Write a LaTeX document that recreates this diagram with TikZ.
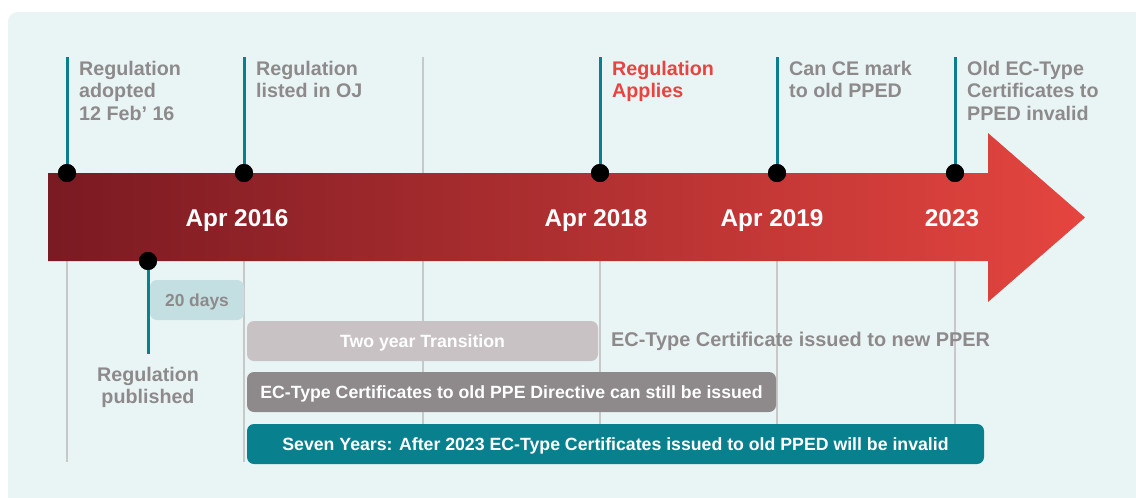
\documentclass[tikz,border=0pt]{standalone}
\usepackage{fontspec}
\setmainfont{Liberation Sans}
\definecolor{panelbg}{HTML}{E9F5F5}
\definecolor{txtgray}{HTML}{8E8A8B}
\definecolor{regred}{HTML}{E8433F}
\definecolor{tealc}{HTML}{0B7F8E}
\definecolor{vgray}{HTML}{C8C8C8}
\definecolor{dayfill}{HTML}{C3DFE2}
\definecolor{twofill}{HTML}{C8C2C5}
\definecolor{darkfill}{HTML}{8E898B}
\definecolor{tealbox}{HTML}{08808E}
\definecolor{arrowL}{HTML}{7A1A22}
\definecolor{arrowR}{HTML}{E5453F}
\begin{document}
\begin{tikzpicture}[x=1pt,y=-1pt,
  dot/.style={circle,fill=black,inner sep=0,minimum size=18pt},
  tline/.style={draw=tealc,line width=3pt},
  gline/.style={draw=vgray,line width=1.5pt},
  lbl/.style={font=\fontsize{19.7}{22.5}\selectfont\bfseries,text=txtgray,inner sep=0,align=left,anchor=base west},
  datelbl/.style={font=\fontsize{24.3}{28}\selectfont\bfseries,text=white,inner sep=0,anchor=base},
  bar/.style={rounded corners=7pt,inner sep=0,font=\fontsize{17.7}{20}\selectfont\bfseries,text=white,text height=12.7pt,text depth=0pt},
]
\useasboundingbox (0,0) rectangle (1136,498);
\fill[white] (0,0) rectangle (1136,498);
\clip (0,0) rectangle (1136,498);
\fill[panelbg,rounded corners=10pt] (8,12) rectangle (1150,512);

% event coordinates
\foreach \n/\x in {a/67,b/244,m/423,c/600,d/777,e/955}{
  \coordinate (\n top) at (\x,57);
  \coordinate (\n bot) at (\x,462);
  \coordinate (\n mid) at (\x,261);
}
% gray guide lines
\draw[gline] (mtop) -- (mbot);
\foreach \n in {a,b,c,d,e}{ \draw[gline] (\n mid) -- (\n bot); }

% arrow
\shade[left color=arrowL,right color=arrowR]
  (48,173) -- (988,173) -- (988,133) -- (1085,217.5) -- (988,302) -- (988,261) -- (48,261) -- cycle;

% dots and teal lines
\foreach \n/\x in {a/67,b/244,c/600,d/777,e/955}{
  \node[dot] (\n dot) at (\x,173) {};
  \draw[tline] (\n top) -- (\n dot.center);
  \node[dot] at (\x,173) {};
}
\node[dot] (pubdot) at (148,261) {};
\coordinate (pubend) at (148,354);
\draw[tline] (pubdot.center) -- (pubend);
\node[dot] at (148,261) {};

% top labels (base anchor = baseline of last line)
\node[lbl] (la) at (79,120) {Regulation\\adopted\\12 Feb’ 16};
\node[lbl] (lb) at (256,97.5) {Regulation\\listed in OJ};
\node[lbl,text=regred] (lc) at (612,97.5) {Regulation\\Applies};
\node[lbl] (ld) at (789,97.5) {Can CE mark\\to old PPED};
\node[lbl] (le) at (967,120) {Old EC-Type\\Certificates to\\PPED invalid};

% dates
\node[datelbl] (d1) at (237,226.5) {Apr 2016};
\node[datelbl] (d2) at (596,226.5) {Apr 2018};
\node[datelbl] (d3) at (772,226.5) {Apr 2019};
\node[datelbl] (d4) at (952,226.5) {2023};

% lower items
\node[bar,fill=dayfill,text=txtgray,font=\fontsize{17.4}{20}\selectfont\bfseries,minimum width=94pt,minimum height=40pt] (days) at (197,300) {20 days};
\node[lbl,anchor=base,align=center] (pub) at (148,403.5) {Regulation\\published};
\node[bar,fill=twofill,minimum width=351pt,minimum height=40pt] (two) at (422.5,341) {Two year Transition};
\node[lbl,font=\fontsize{19.9}{22}\selectfont\bfseries] (newpper) at (611,346.5) {EC-Type Certificate issued to new PPER};
\node[bar,fill=darkfill,minimum width=529pt,minimum height=40pt] (old) at (511.5,392) {EC-Type Certificates to old PPE Directive can still be issued};
\node[bar,fill=tealbox,minimum width=737pt,minimum height=40pt] (seven) at (615.5,444) {Seven Years: After 2023 EC-Type Certificates issued to old PPED will be invalid};
\end{tikzpicture}
\end{document}
